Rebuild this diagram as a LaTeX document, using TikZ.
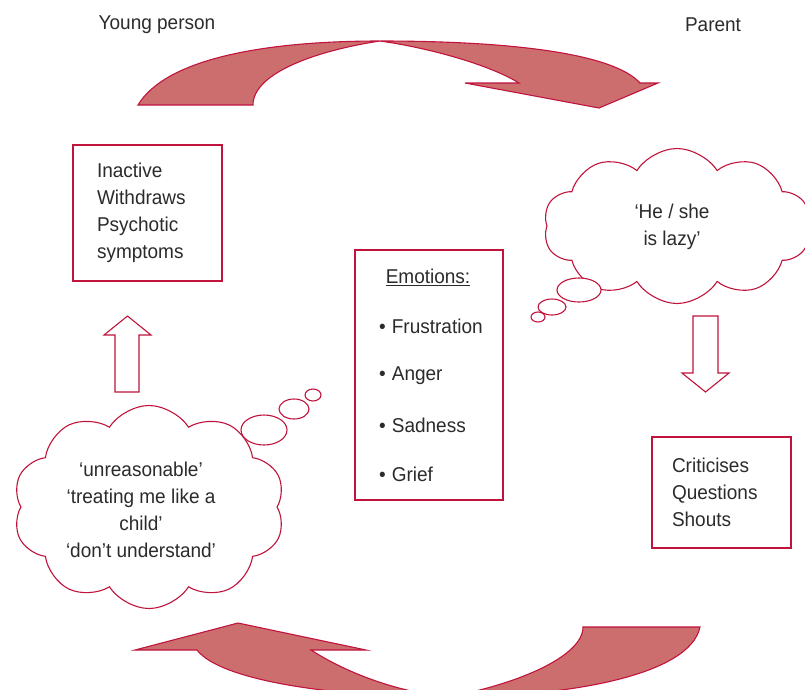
\documentclass[tikz,border=0pt]{standalone}
\usepackage{fontspec}
\setmainfont{Liberation Sans}[FakeStretch=0.95]
\usetikzlibrary{shapes.symbols,shapes.geometric}
\definecolor{rim}{HTML}{C0143C}
\definecolor{arrowfill}{HTML}{CD6E6E}
\definecolor{ink}{HTML}{2B2B2B}

\begin{document}
\begin{tikzpicture}[x=1pt,y=-1pt,
  font=\fontsize{20}{27}\selectfont, text=ink,
  box/.style={draw=rim, line width=1.1pt, fill=white},
  bigarrow/.style={draw=rim, fill=arrowfill, line width=1.1pt, line join=miter},
  blockarrow/.style={draw=rim, fill=white, line width=1.1pt},
  thought/.style={cloud, draw=rim, fill=white, line width=1.1pt, cloud puffs=10, cloud puff arc=115, cloud ignores aspect, inner sep=0pt},
  bubble/.style={ellipse, draw=rim, fill=white, line width=1.1pt, inner sep=0pt}]
\useasboundingbox (0,0) rectangle (805,689);
%
\node (young) at (157,25) {Young person};
\node (parent) at (713,25) {Parent};
%
\draw[bigarrow] (138,105) .. controls (165,60) and (260,41) .. (380,41)
  .. controls (520,41) and (615,55) .. (640,83) -- (658,83) -- (599,108)
  -- (465,83) -- (519,83) .. controls (490,65) and (430,48) .. (380,41)
  .. controls (320,50) and (253,72) .. (253,105) -- cycle;
\draw[bigarrow] (238,623) -- (366,650) -- (311,650)
  .. controls (350,675) and (400,692) .. (447,697)
  .. controls (515,685) and (583,657) .. (583,627) -- (700,627)
  .. controls (690,675) and (570,697) .. (447,697)
  .. controls (330,697) and (220,680) .. (197,650) -- (135,650) -- cycle;
%
\node[box, minimum width=149, minimum height=136, text width=101, inner xsep=24, align=left] (act) at (147.5,213)
  {Inactive\\Withdraws\\Psychotic\\symptoms};
\node[box, minimum width=139, minimum height=111, text width=99, inner xsep=20, align=left] (react) at (721.5,492.5)
  {Criticises\\Questions\\Shouts};
\node[box, minimum width=148, minimum height=250] (emo) at (429,375) {};
\node (head) at (428,277) {\underline{Emotions:}};
\node[anchor=west, inner sep=0pt] (e1) at (379,326) {\textbullet\hspace{6pt}Frustration};
\node[anchor=west, inner sep=0pt] (e2) at (379,376) {\textbullet\hspace{6pt}Anger};
\node[anchor=west, inner sep=0pt] (e3) at (379,425) {\textbullet\hspace{6pt}Sadness};
\node[anchor=west, inner sep=0pt] (e4) at (379,474) {\textbullet\hspace{6pt}Grief};
%
\draw[blockarrow] (115,392) -- (115,335) -- (104,335) -- (127.5,316) -- (151,335) -- (139,335) -- (139,392) -- cycle;
\draw[blockarrow] (693,316) -- (718,316) -- (718,373) -- (729,373) -- (705.5,392) -- (682,373) -- (693,373) -- cycle;
%
\node[thought, minimum width=272, minimum height=203] (kid) at (149,507) {};
\node[bubble, minimum width=46, minimum height=30] (kb1) at (264,430) {};
\node[bubble, minimum width=30, minimum height=20] (kb2) at (294,409) {};
\node[bubble, minimum width=16, minimum height=12] (kb3) at (313,395) {};
\node[align=center] (kidtext) at (141,510)
  {`unreasonable'\\`treating me like a\\child'\\`don't understand'};
%
\node[thought, minimum width=267, minimum height=155] (par) at (677,226) {};
\node[bubble, minimum width=44, minimum height=24] (pb1) at (579,290) {};
\node[bubble, minimum width=28, minimum height=16] (pb2) at (552,307) {};
\node[bubble, minimum width=14, minimum height=10] (pb3) at (538,317) {};
\node[align=center] (partext) at (672,227) {`He / she\\is lazy'};
\end{tikzpicture}
\end{document}
